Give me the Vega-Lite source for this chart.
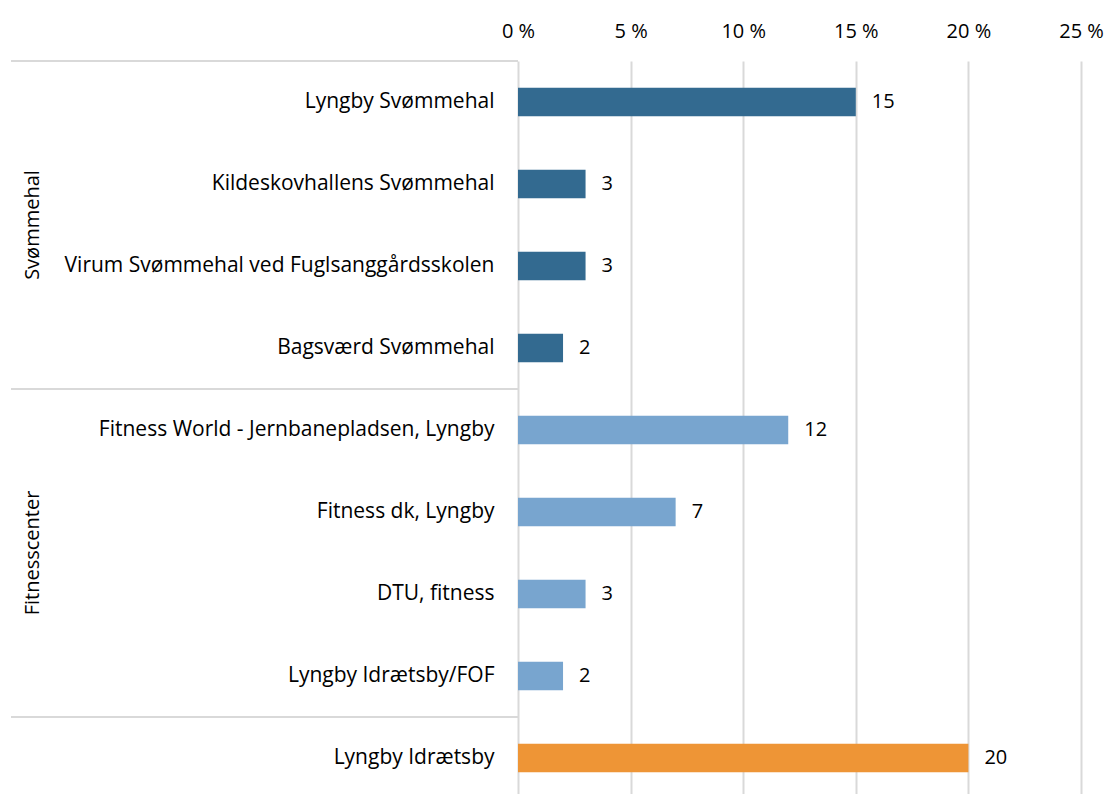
{
  "$schema": "https://vega.github.io/schema/vega-lite/v6.json",
  "padding": {"left": 10, "top": 21, "right": 0, "bottom": 0},
  "background": "white",
  "config": {
    "view": {"stroke": null},
    "font": "Open Sans",
    "text": {"font": "Open Sans"},
    "axis": {"labelFont": "Open Sans", "labelColor": "#000000"}
  },
  "datasets": {
    "bars": [
      {"cat": "Lyngby Svømmehal", "group": "Svømmehal", "pct": 15},
      {"cat": "Kildeskovhallens Svømmehal", "group": "Svømmehal", "pct": 3},
      {"cat": "Virum Svømmehal ved Fuglsanggårdsskolen", "group": "Svømmehal", "pct": 3},
      {"cat": "Bagsværd Svømmehal", "group": "Svømmehal", "pct": 2},
      {"cat": "Fitness World - Jernbanepladsen, Lyngby", "group": "Fitnesscenter", "pct": 12},
      {"cat": "Fitness dk, Lyngby", "group": "Fitnesscenter", "pct": 7},
      {"cat": "DTU, fitness", "group": "Fitnesscenter", "pct": 3},
      {"cat": "Lyngby Idrætsby/FOF", "group": "Fitnesscenter", "pct": 2},
      {"cat": "Lyngby Idrætsby", "group": "Lyngby Idrætsby", "pct": 20}
    ],
    "separators": [
      {"at": "Lyngby Svømmehal"},
      {"at": "Fitness World - Jernbanepladsen, Lyngby"},
      {"at": "Lyngby Idrætsby"}
    ],
    "groups": [
      {"group": "Svømmehal", "at": "Virum Svømmehal ved Fuglsanggårdsskolen"},
      {"group": "Fitnesscenter", "at": "DTU, fitness"}
    ]
  },
  "hconcat": [
    {
      "width": 507,
      "height": 738,
      "layer": [
        {
          "data": {"name": "separators"},
          "mark": {"type": "rule", "color": "#d9d9d9", "strokeWidth": 2},
          "encoding": {
            "y": {"field": "at", "type": "nominal", "bandPosition": 0,
              "scale": {"domain": ["Lyngby Svømmehal", "Kildeskovhallens Svømmehal", "Virum Svømmehal ved Fuglsanggårdsskolen", "Bagsværd Svømmehal", "Fitness World - Jernbanepladsen, Lyngby", "Fitness dk, Lyngby", "DTU, fitness", "Lyngby Idrætsby/FOF", "Lyngby Idrætsby"], "paddingInner": 0, "paddingOuter": 0},
              "axis": null}
          }
        },
        {
          "data": {"name": "groups"},
          "mark": {"type": "text", "angle": 270, "fontSize": 20, "align": "center", "baseline": "middle", "x": 22, "color": "#000000"},
          "encoding": {
            "y": {"field": "at", "type": "nominal", "bandPosition": 0},
            "text": {"field": "group"}
          }
        }
      ]
    },
    {
      "width": 563,
      "height": 738,
      "data": {"name": "bars"},
      "encoding": {
        "y": {"field": "cat", "type": "nominal",
          "scale": {"domain": ["Lyngby Svømmehal", "Kildeskovhallens Svømmehal", "Virum Svømmehal ved Fuglsanggårdsskolen", "Bagsværd Svømmehal", "Fitness World - Jernbanepladsen, Lyngby", "Fitness dk, Lyngby", "DTU, fitness", "Lyngby Idrætsby/FOF", "Lyngby Idrætsby"], "paddingInner": 0.65, "paddingOuter": 0.325},
          "axis": {"title": null, "orient": "left", "domain": false, "ticks": false, "labelPadding": 24, "labelFontSize": 21, "labelLimit": 600}
        },
        "x": {"field": "pct", "type": "quantitative",
          "scale": {"domain": [0, 25], "nice": false},
          "axis": {"title": null, "orient": "top", "values": [0, 5, 10, 15, 20, 25], "labelExpr": "datum.value + ' %'", "labelFlush": false, "labelAlign": "center", "domain": false, "ticks": false, "grid": true, "gridColor": "#d9d9d9", "gridWidth": 2, "labelFontSize": 20, "labelPadding": 20}
        }
      },
      "layer": [
        {
          "mark": {"type": "bar"},
          "encoding": {
            "color": {"field": "group", "type": "nominal", "legend": null,
              "scale": {"domain": ["Svømmehal", "Fitnesscenter", "Lyngby Idrætsby"], "range": ["#336A90", "#78A5CF", "#EE9536"]}}
          }
        },
        {
          "mark": {"type": "text", "align": "left", "baseline": "middle", "dx": 16, "fontSize": 20, "color": "#000000"},
          "encoding": {"text": {"field": "pct", "type": "quantitative"}}
        }
      ]
    }
  ],
  "spacing": 0,
  "bounds": "flush"
}
